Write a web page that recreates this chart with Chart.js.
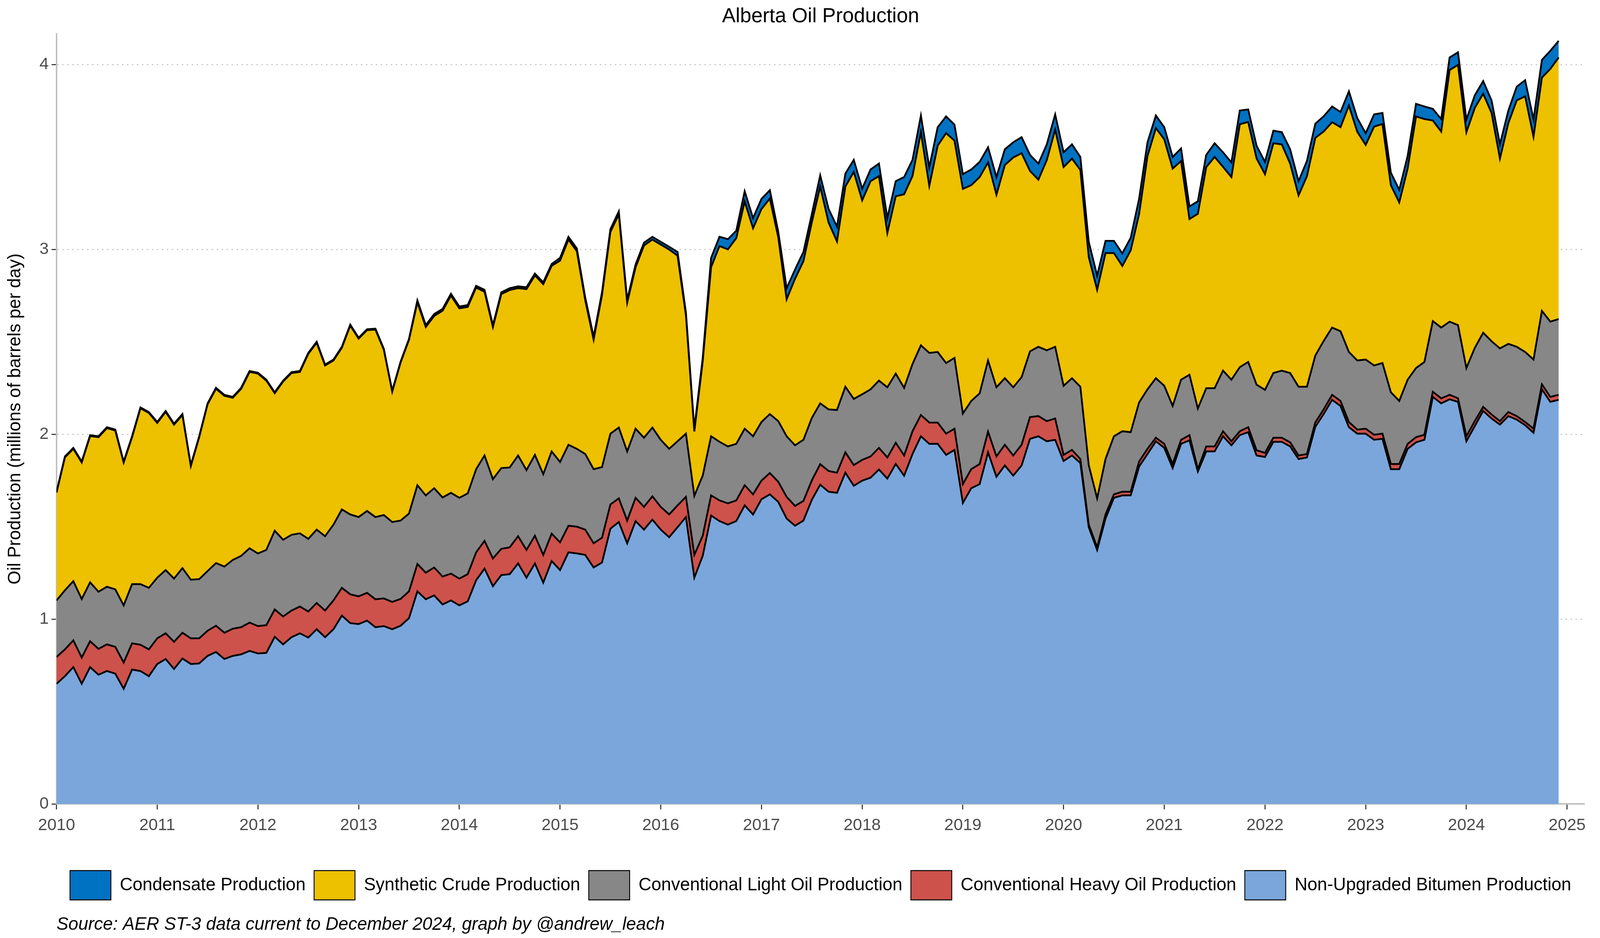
<!DOCTYPE html>
<html lang="en">
<head>
<meta charset="utf-8">
<title>Alberta Oil Production</title>
<script src="https://cdn.jsdelivr.net/npm/chart.js"></script>
<style>
    html, body { margin: 0; padding: 0; background: #ffffff; overflow: hidden; }
    canvas { display: block; }
</style>
</head>
<body>
<canvas id="oilChart"></canvas>
<script>
// Alberta oil production by stream, monthly, millions of barrels per day
// Values (Jan 2010 - Dec 2024)

const startYear = 2010;
const tickYears = [2010, 2011, 2012, 2013, 2014, 2015, 2016, 2017, 2018, 2019, 2020, 2021, 2022, 2023, 2024, 2025];
const yTicks = [0, 1, 2, 3, 4];

// one row per year, Jan..Dec
const bitumen = [
    0.650, 0.691, 0.740, 0.650, 0.740, 0.699, 0.719, 0.705, 0.623, 0.727, 0.719, 0.691,
    0.757, 0.784, 0.730, 0.787, 0.757, 0.760, 0.801, 0.822, 0.784, 0.801, 0.809, 0.828,
    0.814, 0.817, 0.904, 0.863, 0.902, 0.923, 0.900, 0.945, 0.902, 0.945, 1.019, 0.978,
    0.973, 0.992, 0.956, 0.962, 0.945, 0.964, 1.005, 1.150, 1.107, 1.128, 1.079, 1.101,
    1.074, 1.096, 1.210, 1.273, 1.178, 1.238, 1.243, 1.301, 1.224, 1.301, 1.197, 1.314,
    1.265, 1.361, 1.355, 1.347, 1.279, 1.306, 1.489, 1.525, 1.410, 1.530, 1.484, 1.538,
    1.484, 1.443, 1.497, 1.552, 1.224, 1.342, 1.560, 1.530, 1.511, 1.530, 1.615, 1.566,
    1.648, 1.675, 1.634, 1.544, 1.505, 1.533, 1.645, 1.727, 1.689, 1.683, 1.792, 1.721,
    1.749, 1.765, 1.809, 1.760, 1.839, 1.776, 1.893, 1.989, 1.948, 1.948, 1.888, 1.915,
    1.628, 1.708, 1.730, 1.902, 1.770, 1.831, 1.776, 1.831, 1.975, 1.989, 1.962, 1.970,
    1.855, 1.885, 1.844, 1.497, 1.374, 1.544, 1.656, 1.669, 1.669, 1.825, 1.893, 1.962,
    1.926, 1.817, 1.948, 1.967, 1.798, 1.907, 1.907, 1.989, 1.940, 1.995, 2.011, 1.885,
    1.877, 1.959, 1.959, 1.934, 1.866, 1.874, 2.040, 2.110, 2.186, 2.153, 2.038, 2.003,
    2.003, 1.970, 1.975, 1.811, 1.811, 1.921, 1.956, 1.970, 2.202, 2.167, 2.189, 2.175,
    1.962, 2.044, 2.126, 2.085, 2.052, 2.098, 2.079, 2.049, 2.008, 2.243, 2.175, 2.186
];

const heavyOil = [
    0.145, 0.145, 0.145, 0.142, 0.140, 0.140, 0.144, 0.145, 0.142, 0.142, 0.142, 0.145,
    0.139, 0.139, 0.147, 0.139, 0.139, 0.136, 0.136, 0.142, 0.142, 0.147, 0.147, 0.153,
    0.148, 0.150, 0.148, 0.151, 0.144, 0.145, 0.141, 0.142, 0.144, 0.156, 0.150, 0.156,
    0.150, 0.150, 0.151, 0.150, 0.148, 0.145, 0.145, 0.148, 0.144, 0.151, 0.151, 0.145,
    0.145, 0.147, 0.151, 0.150, 0.150, 0.142, 0.145, 0.147, 0.150, 0.150, 0.150, 0.148,
    0.150, 0.144, 0.145, 0.137, 0.131, 0.134, 0.131, 0.128, 0.123, 0.126, 0.123, 0.126,
    0.123, 0.123, 0.118, 0.109, 0.123, 0.109, 0.109, 0.112, 0.115, 0.112, 0.109, 0.109,
    0.101, 0.115, 0.109, 0.117, 0.107, 0.106, 0.105, 0.111, 0.112, 0.109, 0.110, 0.112,
    0.112, 0.115, 0.117, 0.114, 0.115, 0.109, 0.123, 0.115, 0.115, 0.115, 0.115, 0.115,
    0.102, 0.103, 0.109, 0.112, 0.110, 0.112, 0.109, 0.112, 0.118, 0.109, 0.109, 0.115,
    0.033, 0.030, 0.022, 0.014, 0.014, 0.022, 0.019, 0.020, 0.020, 0.027, 0.028, 0.019,
    0.022, 0.022, 0.022, 0.028, 0.013, 0.027, 0.027, 0.027, 0.022, 0.021, 0.027, 0.028,
    0.022, 0.022, 0.022, 0.022, 0.019, 0.019, 0.024, 0.025, 0.027, 0.027, 0.028, 0.022,
    0.027, 0.027, 0.028, 0.028, 0.028, 0.027, 0.028, 0.027, 0.028, 0.027, 0.024, 0.019,
    0.027, 0.027, 0.022, 0.022, 0.019, 0.022, 0.019, 0.017, 0.022, 0.027, 0.027, 0.027
];

const lightOil = [
    0.306, 0.320, 0.320, 0.317, 0.319, 0.309, 0.312, 0.311, 0.309, 0.320, 0.328, 0.333,
    0.328, 0.342, 0.342, 0.350, 0.317, 0.320, 0.323, 0.339, 0.358, 0.372, 0.386, 0.402,
    0.393, 0.407, 0.426, 0.415, 0.410, 0.396, 0.393, 0.397, 0.402, 0.410, 0.424, 0.432,
    0.429, 0.443, 0.445, 0.451, 0.432, 0.424, 0.421, 0.426, 0.418, 0.429, 0.428, 0.437,
    0.437, 0.437, 0.450, 0.462, 0.429, 0.437, 0.432, 0.437, 0.432, 0.437, 0.437, 0.445,
    0.435, 0.438, 0.421, 0.409, 0.401, 0.382, 0.383, 0.383, 0.374, 0.374, 0.374, 0.372,
    0.363, 0.355, 0.347, 0.342, 0.320, 0.325, 0.320, 0.317, 0.308, 0.306, 0.306, 0.314,
    0.317, 0.319, 0.328, 0.328, 0.328, 0.331, 0.338, 0.329, 0.333, 0.339, 0.355, 0.358,
    0.355, 0.363, 0.364, 0.380, 0.374, 0.366, 0.364, 0.377, 0.377, 0.382, 0.382, 0.383,
    0.382, 0.369, 0.382, 0.385, 0.374, 0.360, 0.369, 0.366, 0.355, 0.375, 0.383, 0.388,
    0.374, 0.388, 0.391, 0.322, 0.265, 0.300, 0.314, 0.327, 0.322, 0.320, 0.322, 0.322,
    0.314, 0.314, 0.325, 0.327, 0.328, 0.315, 0.315, 0.328, 0.333, 0.347, 0.353, 0.355,
    0.341, 0.350, 0.363, 0.375, 0.372, 0.364, 0.362, 0.370, 0.364, 0.377, 0.379, 0.374,
    0.374, 0.375, 0.382, 0.388, 0.341, 0.347, 0.374, 0.394, 0.382, 0.383, 0.396, 0.396,
    0.369, 0.396, 0.401, 0.396, 0.393, 0.369, 0.375, 0.379, 0.374, 0.397, 0.407, 0.410
];

const syntheticCrude = [
    0.583, 0.719, 0.716, 0.738, 0.791, 0.836, 0.858, 0.859, 0.773, 0.795, 0.951, 0.946,
    0.837, 0.856, 0.833, 0.828, 0.615, 0.768, 0.902, 0.943, 0.924, 0.877, 0.904, 0.954,
    0.973, 0.916, 0.744, 0.856, 0.875, 0.873, 1.001, 1.011, 0.924, 0.888, 0.875, 1.022,
    0.965, 0.978, 1.014, 0.894, 0.705, 0.855, 0.940, 0.990, 0.911, 0.932, 1.010, 1.067,
    1.025, 1.009, 0.982, 0.886, 0.823, 0.941, 0.960, 0.905, 0.979, 0.971, 1.028, 1.004,
    1.089, 1.110, 1.069, 0.832, 0.701, 0.931, 1.091, 1.154, 0.805, 0.873, 1.040, 1.017,
    1.056, 1.078, 1.004, 0.640, 0.348, 0.617, 0.915, 1.059, 1.066, 1.113, 1.229, 1.125,
    1.152, 1.166, 0.995, 0.741, 0.901, 0.966, 1.058, 1.173, 1.011, 0.912, 1.083, 1.228,
    1.049, 1.126, 1.106, 0.835, 0.959, 1.047, 1.017, 1.153, 0.903, 1.116, 1.244, 1.175,
    1.215, 1.167, 1.170, 1.071, 1.042, 1.153, 1.243, 1.211, 0.976, 0.904, 1.029, 1.175,
    1.183, 1.188, 1.173, 1.126, 1.128, 1.114, 0.991, 0.894, 0.984, 1.019, 1.262, 1.353,
    1.333, 1.284, 1.183, 0.842, 1.053, 1.196, 1.251, 1.102, 1.096, 1.314, 1.298, 1.224,
    1.167, 1.243, 1.224, 1.133, 1.035, 1.139, 1.177, 1.133, 1.111, 1.104, 1.333, 1.237,
    1.161, 1.292, 1.293, 1.120, 1.074, 1.142, 1.361, 1.314, 1.085, 1.060, 1.361, 1.408,
    1.276, 1.298, 1.293, 1.235, 1.027, 1.194, 1.333, 1.383, 1.205, 1.262, 1.367, 1.415
];

const condensate = [
    0.005, 0.005, 0.005, 0.005, 0.005, 0.005, 0.005, 0.005, 0.005, 0.005, 0.005, 0.005,
    0.005, 0.005, 0.005, 0.005, 0.005, 0.005, 0.005, 0.005, 0.005, 0.005, 0.005, 0.005,
    0.005, 0.005, 0.005, 0.005, 0.005, 0.005, 0.005, 0.005, 0.005, 0.005, 0.005, 0.005,
    0.005, 0.005, 0.005, 0.005, 0.005, 0.005, 0.005, 0.010, 0.010, 0.010, 0.010, 0.010,
    0.010, 0.010, 0.010, 0.010, 0.010, 0.010, 0.010, 0.010, 0.010, 0.010, 0.010, 0.010,
    0.015, 0.015, 0.015, 0.015, 0.015, 0.015, 0.015, 0.015, 0.015, 0.015, 0.015, 0.015,
    0.015, 0.015, 0.020, 0.015, 0.015, 0.020, 0.050, 0.050, 0.055, 0.040, 0.055, 0.055,
    0.055, 0.045, 0.030, 0.060, 0.050, 0.050, 0.045, 0.060, 0.074, 0.080, 0.070, 0.065,
    0.063, 0.063, 0.068, 0.080, 0.082, 0.093, 0.087, 0.090, 0.100, 0.100, 0.090, 0.087,
    0.080, 0.085, 0.082, 0.082, 0.095, 0.085, 0.082, 0.087, 0.087, 0.087, 0.085, 0.082,
    0.080, 0.077, 0.070, 0.082, 0.077, 0.066, 0.066, 0.068, 0.068, 0.082, 0.074, 0.068,
    0.066, 0.063, 0.068, 0.068, 0.068, 0.066, 0.074, 0.079, 0.079, 0.074, 0.068, 0.068,
    0.066, 0.068, 0.066, 0.077, 0.077, 0.082, 0.077, 0.082, 0.085, 0.082, 0.077, 0.074,
    0.063, 0.066, 0.060, 0.068, 0.068, 0.068, 0.068, 0.068, 0.063, 0.068, 0.068, 0.068,
    0.068, 0.068, 0.068, 0.068, 0.077, 0.068, 0.074, 0.087, 0.093, 0.096, 0.098, 0.090
];

// Month categories, Jan 2010 .. Dec 2024
const months = [];
for (let y = startYear; y < 2025; y++) {
    for (let m = 1; m <= 12; m++) {
        months.push(y + '-' + String(m).padStart(2, '0'));
    }
}

const FONT = "'Liberation Sans', Arial, sans-serif";
Chart.defaults.font.family = FONT;
Chart.defaults.color = '#000000';

// The layout was measured on the 4500x2400 original; map it onto the real window.
// SX for horizontal sizes, SY for vertical ones, FS for fonts.
const W = window.innerWidth || 4500;
const H = window.innerHeight || 2400;
const SX = W / 4500;
const SY = H / 2400;
const FS = Math.min(SX, SY);

// vertical layout (original pixel rows)
const titleTop = 43 * SY - 34.2 * FS;                  // title centred on row 43
const titleBottom = 87 * SY - titleTop - 68.4 * FS;    // plot starts at row 87
const legendTop = 2227.5 * SY - 24 * SX;                // legend keys on rows 2227-2302
const xAxisHeight = legendTop - 2057 * SY;              // plot ends at row 2057
const xTickPad = 41 * SY - 28.2 * FS;                   // year labels centred on row 2112
const captionTop = (2302.5 * SY + 10);
const captionPadTop = 2366 * SY - 30 * FS - captionTop;
const captionPadBottom = Math.max(H - 2366 * SY - 30 * FS, 0);

// horizontal layout: y title centred on column 43, plot starts at column 159
const yTitleTop = 43 * SX - 30 * FS;
const yTitleBottom = 86 * SX - 56.13 * FS;

// x position = months since Jan 2010
function toPoints(values) {
    return months.map((m, i) => ({ x: i, y: values[i] }));
}

function makeLayer(label, values, colour, fill) {
    return {
        label: label,
        data: toPoints(values),
        backgroundColor: colour,
        borderColor: '#000000',
        borderWidth: 5 * FS,
        fill: fill,
        tension: 0,
        pointRadius: 0,
        pointHoverRadius: 0
    };
}

// bottom to top of the stack
const datasets = [
    makeLayer('Non-Upgraded Bitumen Production', bitumen, '#7BA6DB', 'origin'),
    makeLayer('Conventional Heavy Oil Production', heavyOil, '#CD524B', '-1'),
    makeLayer('Conventional Light Oil Production', lightOil, '#878787', '-1'),
    makeLayer('Synthetic Crude Production', syntheticCrude, '#EDC000', '-1'),
    makeLayer('Condensate Production', condensate, '#0072C2', '-1')
];

function createChart() {
    const canvas = document.getElementById('oilChart');
    canvas.width = W;
    canvas.height = H;
    const ctx = canvas.getContext('2d');

    return new Chart(ctx, {
        type: 'line',
        data: { datasets: datasets },
        options: {
            responsive: false,
            devicePixelRatio: window.devicePixelRatio || 1,
            animation: false,
            events: [],
            layout: { padding: { left: 0, right: 43 * SX, top: 0, bottom: 0 } },
            plugins: {
                title: {
                    display: true,
                    text: 'Alberta Oil Production',
                    fullSize: false,
                    color: '#000000',
                    font: { size: 57 * FS, weight: 'normal' },
                    padding: { top: titleTop, bottom: titleBottom }
                },
                subtitle: {
                    display: true,
                    position: 'bottom',
                    align: 'start',
                    fullSize: false,
                    text: 'Source: AER ST-3 data current to December 2024, graph by @andrew_leach',
                    color: '#000000',
                    font: { size: 50 * FS, style: 'italic', weight: 'normal' },
                    padding: { top: captionPadTop, bottom: captionPadBottom }
                },
                legend: {
                    display: true,
                    position: 'bottom',
                    fullSize: false,
                    reverse: true,
                    labels: {
                        color: '#000000',
                        font: { size: 50 * FS },
                        boxWidth: 115 * SX,
                        boxHeight: 75 * SY,
                        padding: 24 * SX,
                        generateLabels: function(chart) {
                            const items = Chart.defaults.plugins.legend.labels.generateLabels(chart);
                            items.forEach(item => { item.lineWidth = 2.5 * FS; });
                            return items;
                        }
                    }
                },
                tooltip: { enabled: false }
            },
            scales: {
                x: {
                    type: 'linear',
                    min: 0,
                    max: 182.1,
                    afterBuildTicks: function(axis) {
                        axis.ticks = tickYears.map(y => ({ value: (y - startYear) * 12 }));
                    },
                    afterFit: function(axis) {
                        axis.height = xAxisHeight;
                    },
                    grid: {
                        drawOnChartArea: false,
                        drawTicks: true,
                        tickLength: 14 * SY,
                        tickWidth: 3 * FS,
                        tickColor: '#333333'
                    },
                    border: { display: true, color: '#BDBDBD', width: 4 * FS },
                    ticks: {
                        autoSkip: false,
                        maxRotation: 0,
                        padding: xTickPad,
                        color: '#4D4D4D',
                        font: { size: 47 * FS },
                        callback: function(value) {
                            return String(startYear + Math.round(value / 12));
                        }
                    }
                },
                y: {
                    stacked: true,
                    min: 0,
                    max: 4.165,
                    afterBuildTicks: function(axis) {
                        axis.ticks = yTicks.map(v => ({ value: v }));
                    },
                    grid: {
                        drawOnChartArea: true,
                        color: function(context) {
                            return context.tick && context.tick.value === 0 ? 'rgba(0,0,0,0)' : '#C4C4C4';
                        },
                        lineWidth: 3 * FS,
                        tickLength: 14 * SX,
                        tickWidth: 3 * FS,
                        tickColor: '#333333'
                    },
                    border: { display: true, color: '#BDBDBD', width: 4 * FS, dash: [4 * SX, 10 * SX] },
                    ticks: {
                        padding: 8 * SX,
                        color: '#4D4D4D',
                        font: { size: 47 * FS }
                    },
                    title: {
                        display: true,
                        text: 'Oil Production (millions of barrels per day)',
                        color: '#000000',
                        font: { size: 50 * FS },
                        padding: { top: yTitleTop, bottom: yTitleBottom }
                    }
                }
            }
        }
    });
}

let oilChart = null;

document.addEventListener('DOMContentLoaded', () => {
    oilChart = createChart();
});
</script>
</body>
</html>
